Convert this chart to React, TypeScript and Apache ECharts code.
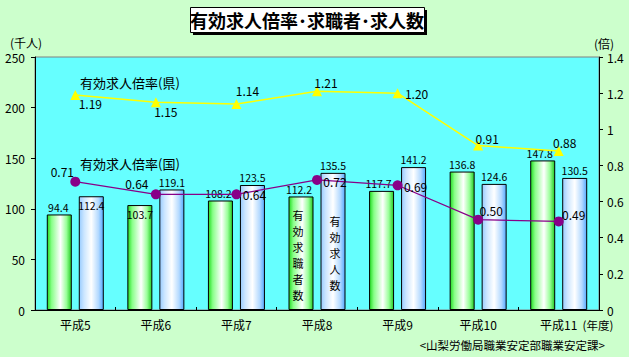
import React, { useEffect, useRef } from "react";
import * as echarts from "echarts";

// ---- data ----
const categories = ["平成5", "平成6", "平成7", "平成8", "平成9", "平成10", "平成11"];
const jobSeekers = [94.4, 103.7, 108.2, 112.2, 117.7, 136.8, 147.8]; // 有効求職者数 (千人)
const jobOffers = [112.4, 119.1, 123.5, 135.5, 141.2, 124.6, 130.5]; // 有効求人数 (千人)
const ratioPref = [1.19, 1.15, 1.14, 1.21, 1.2, 0.91, 0.88]; // 有効求人倍率(県)
const ratioNation = [0.71, 0.64, 0.64, 0.72, 0.69, 0.5, 0.49]; // 有効求人倍率(国)
const leftAxis = { min: 0, max: 250, interval: 50 };
const rightAxis = { min: 0, max: 1.4, interval: 0.2 };
const seekerCaption = "有効求職者数";
const offerCaption = "有効求人数";

// ---- label placement (styles only) ----
const prefLabelOffsets: [number, number][] = [
  [15, 9], [10, 9], [11, -13], [9, -9], [19, 0], [9, -7], [6, -8],
];
const nationLabelOffsets: [number, number][] = [
  [-13, -10], [-19, -11], [18, 0], [18, 2], [18, 1], [13, -9], [15, -7],
];
const seekerLabelShift = [-1, 0, -2, -2, -3, 0, -3];
const seekerInside = [1];
const offerInside = [0];

const FONT = "'Noto Sans CJK JP', 'Noto Sans', sans-serif";

const greenGrad = new echarts.graphic.LinearGradient(0, 0, 1, 0, [
  { offset: 0, color: "#22dd22" },
  { offset: 0.18, color: "#88ff88" },
  { offset: 0.55, color: "#ffffff" },
  { offset: 0.8, color: "#99ff99" },
  { offset: 1, color: "#22cc22" },
]);
const blueGrad = new echarts.graphic.LinearGradient(0, 0, 1, 0, [
  { offset: 0, color: "#99ccff" },
  { offset: 0.2, color: "#cce6ff" },
  { offset: 0.5, color: "#ffffff" },
  { offset: 0.8, color: "#b3d9ff" },
  { offset: 1, color: "#55aaff" },
]);

function verticalText(text: string, x: number, y0: number, step: number) {
  return text.split("").map((ch, i) => ({
    type: "text", x, y: y0 + i * step, z: 12,
    style: { text: ch, fill: "#000", fontSize: 11, lineHeight: 11, fontFamily: FONT, align: "center", verticalAlign: "middle" },
  }));
}

export default function App() {
  const ref = useRef<HTMLDivElement>(null);
  useEffect(() => {
    if (!ref.current) return;
    const chart = echarts.init(ref.current, null, { renderer: "svg" });
    const barLabel = { show: true, position: "top", distance: 2, color: "#000", fontSize: 10.5, fontFamily: FONT };
    const option: any = {
      animation: false,
      backgroundColor: "#ccffcc",
      textStyle: { fontFamily: FONT },
      grid: {
        left: 35, right: 30, top: 57, bottom: 47,
        show: true, backgroundColor: "#66ffff", borderColor: "#808080", borderWidth: 1,
      },
      xAxis: {
        type: "category",
        data: categories,
        axisLine: { lineStyle: { color: "#000", width: 1 } },
        axisTick: { show: true, inside: true, length: 3, lineStyle: { color: "#000" } },
        axisLabel: { color: "#000", fontSize: 12, margin: 8, fontFamily: FONT },
      },
      yAxis: [
        {
          type: "value", ...leftAxis,
          axisLine: { show: true, lineStyle: { color: "#000" } },
          axisTick: { show: true, length: 4, lineStyle: { color: "#000" } },
          splitLine: { show: false },
          axisLabel: { color: "#000", fontSize: 12, margin: 10, fontFamily: FONT },
        },
        {
          type: "value", ...rightAxis, position: "right",
          axisLine: { show: true, lineStyle: { color: "#000" } },
          axisTick: { show: true, length: 4, lineStyle: { color: "#000" } },
          splitLine: { show: false },
          axisLabel: { color: "#000", fontSize: 12, margin: 8, fontFamily: FONT },
        },
      ],
      series: [
        {
          name: "有効求職者数", type: "bar", barWidth: 25, barGap: "28%",
          itemStyle: { color: greenGrad, borderColor: "#000", borderWidth: 1 },
          label: barLabel,
          data: jobSeekers.map((v, i) =>
            seekerInside.includes(i)
              ? { value: v, label: { position: "insideTop", distance: 4 } }
              : { value: v, label: { offset: [seekerLabelShift[i], 0] } }
          ),
          z: 2,
        },
        {
          name: "有効求人数", type: "bar", barWidth: 25,
          itemStyle: { color: blueGrad, borderColor: "#000", borderWidth: 1 },
          label: barLabel,
          data: jobOffers.map((v, i) =>
            offerInside.includes(i)
              ? { value: v, label: { position: "insideTop", distance: 4 } }
              : v
          ),
          z: 2,
        },
        {
          name: "有効求人倍率(県)", type: "line", yAxisIndex: 1,
          symbol: "triangle", symbolSize: 10,
          lineStyle: { color: "#ffff00", width: 1.5 },
          itemStyle: { color: "#ffff00" },
          data: ratioPref.map((v, i) => ({
            value: v,
            label: {
              show: true, position: "inside", offset: prefLabelOffsets[i],
              align: "center", verticalAlign: "middle",
              color: "#000", fontSize: 12, fontFamily: FONT,
              formatter: v.toFixed(2),
            },
          })),
          z: 5,
        },
        {
          name: "有効求人倍率(国)", type: "line", yAxisIndex: 1,
          symbol: "circle", symbolSize: 10,
          lineStyle: { color: "#880088", width: 1.2 },
          itemStyle: { color: "#880088" },
          data: ratioNation.map((v, i) => ({
            value: v,
            label: {
              show: true, position: "inside", offset: nationLabelOffsets[i],
              align: "center", verticalAlign: "middle",
              color: "#000", fontSize: 12, fontFamily: FONT,
              formatter: v.toFixed(2),
            },
          })),
          z: 5,
        },
      ],
      graphic: [
        // title box with shadow
        { type: "rect", left: 193, top: 10, shape: { width: 234, height: 25 }, style: { fill: "#000" }, z: 10 },
        { type: "rect", left: 190, top: 7, shape: { width: 234, height: 25 }, style: { fill: "#fff", stroke: "#000", lineWidth: 1 }, z: 11 },
        {
          type: "text", x: 307, y: 20, z: 12,
          style: {
            text: "有効求人倍率･求職者･求人数", fill: "#000", fontSize: 18, fontWeight: "bold",
            fontFamily: FONT, align: "center", verticalAlign: "middle",
          },
        },
        { type: "text", x: 26, y: 42, z: 12, style: { text: "(千人)", fill: "#000", fontSize: 12, fontFamily: FONT, align: "center", verticalAlign: "middle" } },
        { type: "text", x: 604, y: 43, z: 12, style: { text: "(倍)", fill: "#000", fontSize: 12, fontFamily: FONT, align: "center", verticalAlign: "middle" } },
        { type: "text", x: 598, y: 325, z: 12, style: { text: "(年度)", fill: "#000", fontSize: 11.5, fontFamily: FONT, align: "center", verticalAlign: "middle" } },
        { type: "text", x: 605, y: 345, z: 12, style: { text: "<山梨労働局職業安定部職業安定課>", fill: "#000", fontSize: 11.5, fontFamily: FONT, align: "right", verticalAlign: "middle" } },
        { type: "text", x: 80, y: 82, z: 12, style: { text: "有効求人倍率(県)", fill: "#000", fontSize: 13, fontFamily: FONT, align: "left", verticalAlign: "middle" } },
        { type: "text", x: 80, y: 163, z: 12, style: { text: "有効求人倍率(国)", fill: "#000", fontSize: 13, fontFamily: FONT, align: "left", verticalAlign: "middle" } },
        ...verticalText(seekerCaption, 298, 215, 16),
        ...verticalText(offerCaption, 335, 221, 16),
      ],
    };
    chart.setOption(option);
    return () => chart.dispose();
  }, []);
  return <div ref={ref} style={{ position: "absolute", left: 0, top: 0, width: 629, height: 357 }} />;
}
